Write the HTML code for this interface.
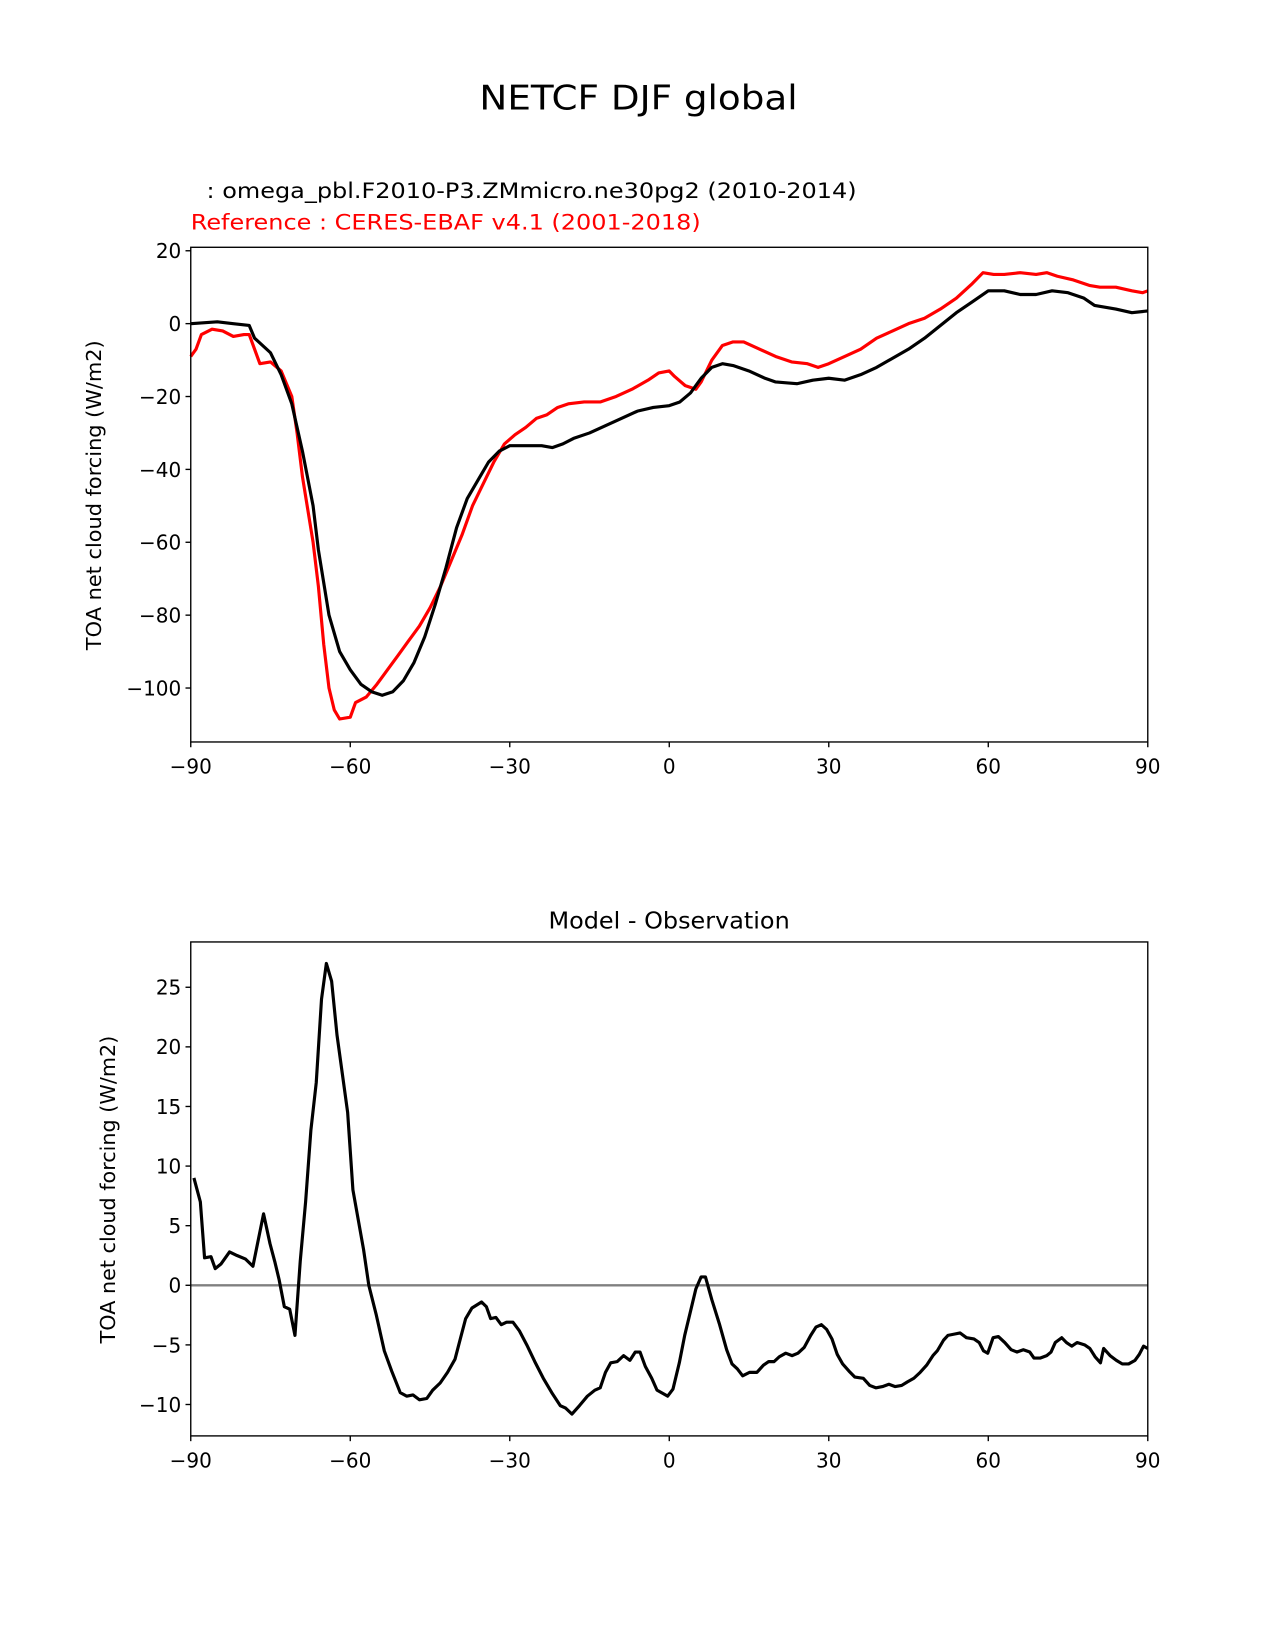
<!DOCTYPE html>
<html><head><meta charset="utf-8"><style>
html,body{margin:0;padding:0;background:#fff;}
svg{display:block;font-family:"DejaVu Sans","Liberation Sans",sans-serif;}
</style></head><body>
<svg id="fig" width="1275" height="1650" viewBox="0 0 1210 1566" xmlns="http://www.w3.org/2000/svg">
<rect width="1210" height="1566" fill="#fff"/>
<text x="606" y="104" font-size="32" text-anchor="middle" textLength="302" lengthAdjust="spacingAndGlyphs">NETCF DJF global</text>
<text x="196" y="188" font-size="20" textLength="617" lengthAdjust="spacingAndGlyphs">: omega_pbl.F2010-P3.ZMmicro.ne30pg2 (2010-2014)</text>
<text x="181" y="218" font-size="20" fill="#ff0000" textLength="484" lengthAdjust="spacingAndGlyphs">Reference : CERES-EBAF v4.1 (2001-2018)</text>
<text x="635" y="881" font-size="21.5" text-anchor="middle" textLength="229" lengthAdjust="spacingAndGlyphs">Model - Observation</text>
<text transform="translate(96,470) rotate(-90)" font-size="19" text-anchor="middle" textLength="294" lengthAdjust="spacingAndGlyphs">TOA net cloud forcing (W/m2)</text>
<text transform="translate(109,1129) rotate(-90)" font-size="19" text-anchor="middle" textLength="292" lengthAdjust="spacingAndGlyphs">TOA net cloud forcing (W/m2)</text>
<g id="top"></g>
<g id="bot"></g>
</svg>
<script>
const xTicks=[-90,-60,-30,0,30,60,90];
const topYTicks=[20,0,-20,-40,-60,-80,-100];
const botYTicks=[25,20,15,10,5,0,-5,-10];
const modelLat=[-90,-85,-82,-79,-78,-75,-73,-71,-69,-67,-66,-64,-62,-60,-58,-56,-54,-52,-50,-48,-46,-44,-42,-40,-38,-36,-34,-32,-30,-28,-26,-24,-22,-20,-18,-15,-12,-9,-6,-3,0,2,4,6,8,10,12,15,18,20,24,27,30,33,36,39,42,45,48,51,54,57,60,63,66,69,72,75,78,80,84,87,90];
const modelVal=[0,0.5,0,-0.5,-4,-8,-14,-22,-35,-50,-62,-80,-90,-95,-99,-101,-102,-101,-98,-93,-86,-77,-67,-56,-48,-43,-38,-35,-33.5,-33.5,-33.5,-33.5,-34,-33,-31.5,-30,-28,-26,-24,-23,-22.5,-21.5,-19,-15,-12,-11,-11.5,-13,-15,-16,-16.5,-15.5,-15,-15.5,-14,-12,-9.5,-7,-4,-0.5,3,6,9,9,8,8,9,8.5,7,5,4,3,3.5];
const refLat=[-90,-89,-88,-86,-84,-82,-80,-79,-77,-75,-73,-71,-70,-69,-67,-66,-65,-64,-63,-62,-60,-59,-57,-55,-53,-51,-49,-47,-45,-43,-41,-39,-37,-35,-33,-31,-29,-27,-25,-23,-21,-19,-16,-13,-10,-7,-4,-2,0,1,3,5,6,8,10,12,14,17,20,23,26,28,30,33,36,39,42,45,48,51,54,57,59,61,63,66,69,71,73,76,79,81,84,87,89,90];
const refVal=[-9,-7,-3,-1.5,-2,-3.5,-3,-3,-11,-10.5,-13,-20,-30,-42,-60,-72,-88,-100,-106,-108.5,-108,-104,-102.5,-99,-95,-91,-87,-83,-78,-72,-65,-58,-50,-44,-38,-33,-30.5,-28.5,-26,-25,-23,-22,-21.5,-21.5,-20,-18,-15.5,-13.5,-13,-14.5,-17,-18,-16,-10,-6,-5,-5,-7,-9,-10.5,-11,-12,-11,-9,-7,-4,-2,0,1.5,4,7,11,14,13.5,13.5,14,13.5,14,13,12,10.5,10,10,9,8.5,9];
const diffLat=[-89.4,-88.2,-87.4,-86.2,-85.4,-84.3,-82.7,-81.3,-79.7,-78.3,-76.3,-75.1,-74.2,-73.4,-72.4,-71.4,-70.4,-69.4,-68.4,-67.4,-66.4,-65.4,-64.5,-63.5,-62.5,-60.5,-59.5,-57.5,-56.5,-55.1,-53.6,-52.2,-50.6,-49.4,-48.2,-47.0,-45.6,-44.5,-43.1,-41.7,-40.3,-39.3,-38.3,-37.1,-35.3,-34.4,-33.6,-32.6,-31.6,-30.6,-29.4,-28.2,-26.8,-25.3,-23.7,-22.1,-20.5,-19.5,-18.3,-16.9,-15.4,-14.0,-13.0,-12.0,-11.0,-9.8,-8.6,-7.4,-6.4,-5.5,-4.5,-3.3,-2.3,-1.1,-0.3,0.7,1.9,2.9,4.1,5.0,6.0,6.8,8.0,9.4,10.8,11.8,12.8,13.8,15.1,16.5,17.7,18.7,19.7,20.7,21.9,23.1,24.2,25.4,26.6,27.6,28.6,29.6,30.6,31.6,32.6,33.8,34.9,36.5,37.7,38.9,40.1,41.3,42.5,43.7,44.8,46.0,47.2,48.4,49.6,50.4,51.6,52.4,53.6,54.7,55.9,57.3,58.3,59.1,59.9,60.9,61.9,63.1,64.3,65.4,66.6,67.8,68.6,69.8,71.0,71.8,72.6,73.8,74.7,75.7,76.7,78.1,79.1,80.1,81.1,81.7,82.9,84.1,85.2,86.4,87.6,88.4,89.2,90.0];
const diffVal=[9,7,2.3,2.4,1.4,1.8,2.8,2.5,2.2,1.6,6,3.5,2,0.5,-1.8,-2,-4.2,2,7,13,17,24,27,25.5,21,14.5,8,3,0,-2.5,-5.5,-7.2,-9,-9.3,-9.2,-9.6,-9.5,-8.8,-8.2,-7.3,-6.2,-4.5,-2.8,-1.9,-1.4,-1.8,-2.8,-2.7,-3.3,-3.1,-3.1,-3.8,-5,-6.4,-7.8,-9,-10.1,-10.3,-10.8,-10.1,-9.3,-8.8,-8.6,-7.3,-6.5,-6.4,-5.9,-6.3,-5.6,-5.6,-6.8,-7.8,-8.8,-9.1,-9.3,-8.7,-6.5,-4.2,-2,-0.3,0.7,0.7,-1.2,-3.2,-5.4,-6.6,-7,-7.6,-7.3,-7.3,-6.7,-6.4,-6.4,-6,-5.7,-5.9,-5.7,-5.2,-4.2,-3.5,-3.3,-3.7,-4.5,-5.8,-6.6,-7.2,-7.7,-7.8,-8.4,-8.6,-8.5,-8.3,-8.5,-8.4,-8.1,-7.8,-7.3,-6.7,-5.9,-5.5,-4.6,-4.2,-4.1,-4,-4.4,-4.5,-4.8,-5.5,-5.7,-4.4,-4.3,-4.8,-5.4,-5.6,-5.4,-5.6,-6.1,-6.1,-5.9,-5.6,-4.8,-4.4,-4.8,-5.1,-4.8,-5,-5.3,-6,-6.5,-5.3,-5.9,-6.3,-6.6,-6.6,-6.3,-5.8,-5.1,-5.3];

const NS='http://www.w3.org/2000/svg';
const L=181,R=1089.3;
function xs(v){return L+(v+90)/180*(R-L);}
function mk(tag,attrs,parent){const e=document.createElementNS(NS,tag);for(const k in attrs)e.setAttribute(k,attrs[k]);parent.appendChild(e);return e;}
function fmt(v){return v<0?'\u2212'+Math.abs(v):String(v);}

function panel(g,top,bot,ys,yTicks,prefix){
  xTicks.forEach(t=>{
    const x=xs(t);
    const tk=mk('line',{x1:x,x2:x,y1:bot,y2:bot+5,stroke:'#000','stroke-width':1.3},g);
    
    
    const tx=mk('text',{x:x,y:bot+30,'font-size':19,'text-anchor':'middle'},g);
    tx.textContent=fmt(t);
    
    
  });
  yTicks.forEach(t=>{
    const y=ys(t);
    const tk=mk('line',{x1:L-5,x2:L,y1:y,y2:y,stroke:'#000','stroke-width':1.3},g);
    
    
    const tx=mk('text',{x:L-9,y:y+7,'font-size':19,'text-anchor':'end'},g);
    tx.textContent=fmt(t);
    
    
  });
}
function line(g,lat,val,ys,color,name){
  const d=lat.map((v,i)=>(i?'L':'M')+xs(v).toFixed(1)+','+ys(val[i]).toFixed(1)).join(' ');
  const p=mk('path',{d:d,fill:'none',stroke:color,'stroke-width':3,'stroke-linejoin':'round'},g);
  
  
}
function frame(g,top,bot,prefix){
  const r=mk('rect',{x:L,y:top,width:R-L,height:bot-top,fill:'none',stroke:'#000','stroke-width':1.3},g);
  
  
}

const gT=document.getElementById('top');
const tTop=234.7,tBot=704.2;
const ysT=v=>238-(v-20)*(415/120);
panel(gT,tTop,tBot,ysT,topYTicks,'top');
line(gT,refLat,refVal,ysT,'#ff0000','reference-line');
line(gT,modelLat,modelVal,ysT,'#000000','model-line');
frame(gT,tTop,tBot,'top');

const gB=document.getElementById('bot');
const bTop=894,bBot=1362.8;
const ysB=v=>937-(v-25)*(396/35);
panel(gB,bTop,bBot,ysB,botYTicks,'bottom');
const z=mk('line',{x1:L,x2:R,y1:ysB(0),y2:ysB(0),stroke:'#808080','stroke-width':2.2},gB);


line(gB,diffLat,diffVal,ysB,'#000000','difference-line');
frame(gB,bTop,bBot,'bottom');
</script>
</body></html>
